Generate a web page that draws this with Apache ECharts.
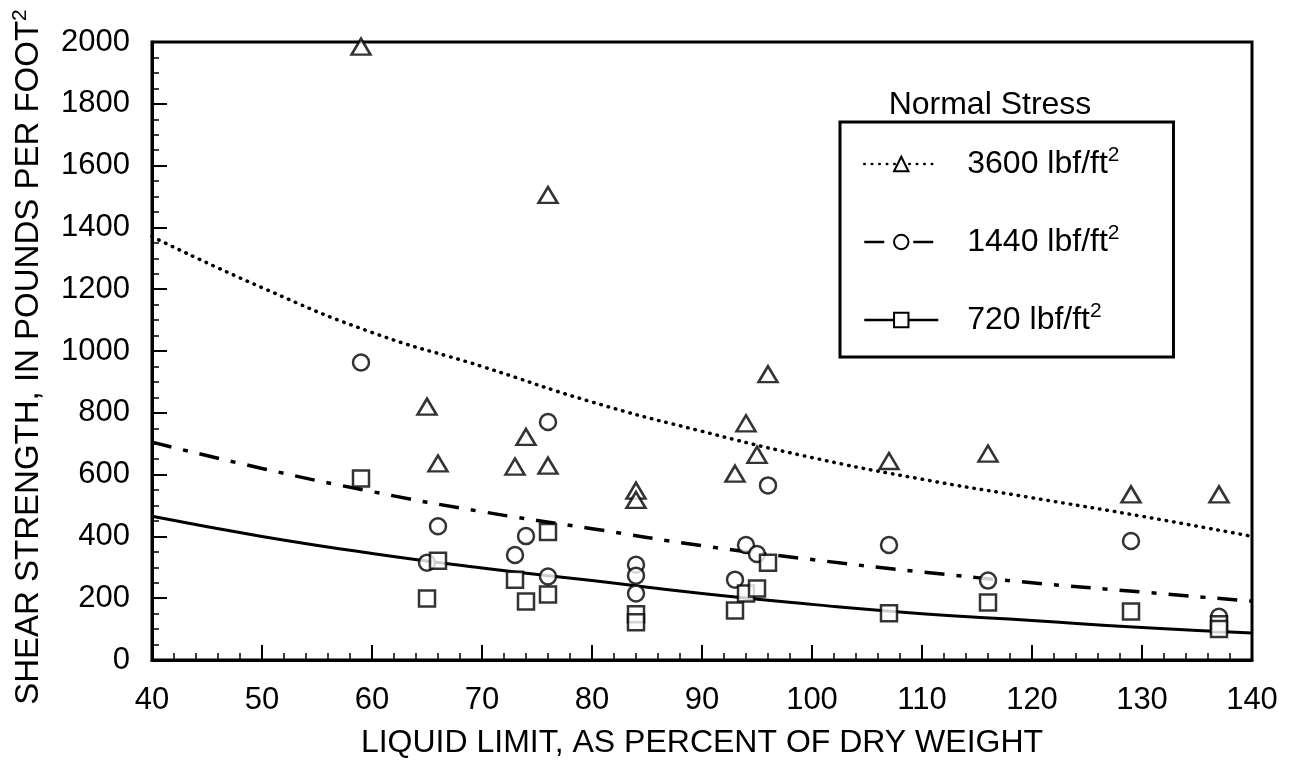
<!DOCTYPE html>
<html>
<head>
<meta charset="utf-8">
<script src="https://cdn.jsdelivr.net/npm/echarts@6/dist/echarts.min.js"></script>
<style>
html,body{margin:0;padding:0;background:#fff;}
#chart{width:1289px;height:764px;}
</style>
</head>
<body>
<div id="chart"></div>
<script>
// ---- data ----
var xTicks = [40, 50, 60, 70, 80, 90, 100, 110, 120, 130, 140];
var yTicks = [0, 200, 400, 600, 800, 1000, 1200, 1400, 1600, 1800, 2000];

var triX = [59, 76, 65, 66, 73, 74, 76, 84, 84, 93, 94, 95, 96, 107, 116, 129, 137];
var triY = [1985, 1505, 820, 636, 626, 722, 629, 548, 518, 603, 766, 664, 925, 644, 668, 536, 536];

var cirX = [59, 65, 66, 73, 74, 76, 76, 84, 84, 84, 93, 94, 95, 96, 107, 116, 129, 137];
var cirY = [963, 315, 433, 340, 401, 770, 270, 308, 273, 215, 260, 372, 343, 565, 372, 257, 385, 140];

var sqX = [59, 65, 66, 73, 74, 76, 76, 84, 84, 93, 94, 95, 96, 107, 116, 129, 137, 137];
var sqY = [587, 199, 321, 260, 189, 414, 212, 148, 122, 160, 215, 231, 315, 151, 186, 157, 116, 100];

var fitX = [40, 50, 60, 70, 80, 90, 100, 110, 120, 130, 140];
var fit3600 = [1370, 1205, 1060, 950, 835, 740, 655, 585, 525, 465, 400];
var fit1440 = [705, 620, 545, 480, 425, 370, 325, 285, 250, 220, 190];
var fit720 = [465, 400, 345, 298, 257, 215, 180, 150, 128, 105, 87];

var seriesNames = ['3600 lbf/ft', '1440 lbf/ft', '720 lbf/ft'];
var legendTitle = 'Normal Stress';
var xTitle = 'LIQUID LIMIT, AS PERCENT OF DRY WEIGHT';
var yTitle = 'SHEAR STRENGTH, IN POUNDS PER FOOT';

// ---- build ----
function pairs(xs, ys) { return xs.map(function (x, i) { return [x, ys[i]]; }); }
var FONT = "'Liberation Sans', Arial, Helvetica, sans-serif";
var FS = 31;
var FT = 32;

var chart = echarts.init(document.getElementById('chart'), null, {renderer: 'canvas'});

var scatterBase = {
  type: 'scatter',
  itemStyle: {color: '#fff', borderColor: '#000', borderWidth: 2.5},
  z: 5,
  silent: true
};

function richSup(fs) {
  return {
    a: {fontFamily: FONT, fontSize: fs, color: '#000', lineHeight: 38},
    s: {fontFamily: FONT, fontSize: 21, color: '#000', lineHeight: 22, verticalAlign: 'top'}
  };
}

var option = {
  backgroundColor: '#fff',
  animation: false,
  title: {
    text: legendTitle,
    left: 990, top: 89, textAlign: 'center', padding: 0,
    textStyle: {fontFamily: FONT, fontSize: FT, fontWeight: 'normal', color: '#000'}
  },
  grid: {
    left: 152, right: 37, top: 42, bottom: 99,
    show: true, borderColor: '#000', borderWidth: 3, backgroundColor: 'transparent'
  },
  legend: {
    data: seriesNames,
    orient: 'vertical',
    left: 840, top: 122,
    padding: [23, 54, 21, 23],
    itemGap: 43,
    itemWidth: 74, itemHeight: 18,
    borderColor: '#000', borderWidth: 3,
    selectedMode: false,
    lineStyle: {width: 2.5},
    formatter: function (name) { return '{a|' + name + '}{s|2}'; },
    textStyle: {
      fontFamily: FONT, fontSize: FT, color: '#000', padding: [0, 0, 0, 24],
      rich: richSup(FT)
    }
  },
  xAxis: {
    type: 'value', min: 40, max: 140, interval: 10,
    name: xTitle, nameLocation: 'middle', nameGap: 67,
    nameTextStyle: {fontFamily: FONT, fontSize: FT, color: '#000'},
    axisLine: {show: true, onZero: false, lineStyle: {color: '#000', width: 3}},
    axisTick: {show: true, inside: true, length: 15, lineStyle: {color: '#000', width: 2}},
    minorTick: {show: true, splitNumber: 5, length: 7, lineStyle: {color: '#000', width: 1.5}},
    splitLine: {show: false},
    axisLabel: {fontFamily: FONT, fontSize: FS, color: '#000', margin: 25,
      formatter: function (v) { return xTicks.indexOf(v) >= 0 ? String(v) : ''; }}
  },
  yAxis: {
    type: 'value', min: 0, max: 2000, interval: 200,
    name: '{a|' + yTitle + '}{s|2}', nameLocation: 'middle', nameGap: 104,
    nameTextStyle: {fontFamily: FONT, fontSize: 33, color: '#000', padding: [0, 12, 0, 0], rich: richSup(33)},
    axisLine: {show: true, onZero: false, lineStyle: {color: '#000', width: 3}},
    axisTick: {show: true, inside: true, length: 15, lineStyle: {color: '#000', width: 2}},
    minorTick: {show: true, splitNumber: 4, length: 7, lineStyle: {color: '#000', width: 1.5}},
    splitLine: {show: false},
    axisLabel: {fontFamily: FONT, fontSize: FS, color: '#000', margin: 22,
      formatter: function (v) { return yTicks.indexOf(v) >= 0 ? String(v) : ''; }}
  },
  series: [
    {
      name: seriesNames[0], type: 'line', data: pairs(fitX, fit3600), smooth: true,
      symbol: 'emptyTriangle', showSymbol: false, color: '#000',
      itemStyle: {color: '#000'},
      lineStyle: {color: '#000', width: 3.5, type: [0.5, 7], cap: 'round'}, z: 3
    },
    {
      name: seriesNames[1], type: 'line', data: pairs(fitX, fit1440), smooth: true,
      symbol: 'emptyCircle', showSymbol: false, color: '#000',
      itemStyle: {color: '#000'},
      lineStyle: {color: '#000', width: 3.5, type: [20, 12, 5, 12]}, z: 3
    },
    {
      name: seriesNames[2], type: 'line', data: pairs(fitX, fit720), smooth: true,
      symbol: 'emptyRect', showSymbol: false, color: '#000',
      itemStyle: {color: '#000'},
      lineStyle: {color: '#000', width: 3}, z: 3
    },
    Object.assign({}, scatterBase, {name: 'tri', symbol: 'triangle', symbolSize: [19, 16], data: pairs(triX, triY)}),
    Object.assign({}, scatterBase, {name: 'cir', symbol: 'circle', symbolSize: 16, data: pairs(cirX, cirY)}),
    Object.assign({}, scatterBase, {name: 'sq', symbol: 'rect', symbolSize: 16, data: pairs(sqX, sqY)})
  ]
};
chart.setOption(option);
</script>
</body>
</html>
